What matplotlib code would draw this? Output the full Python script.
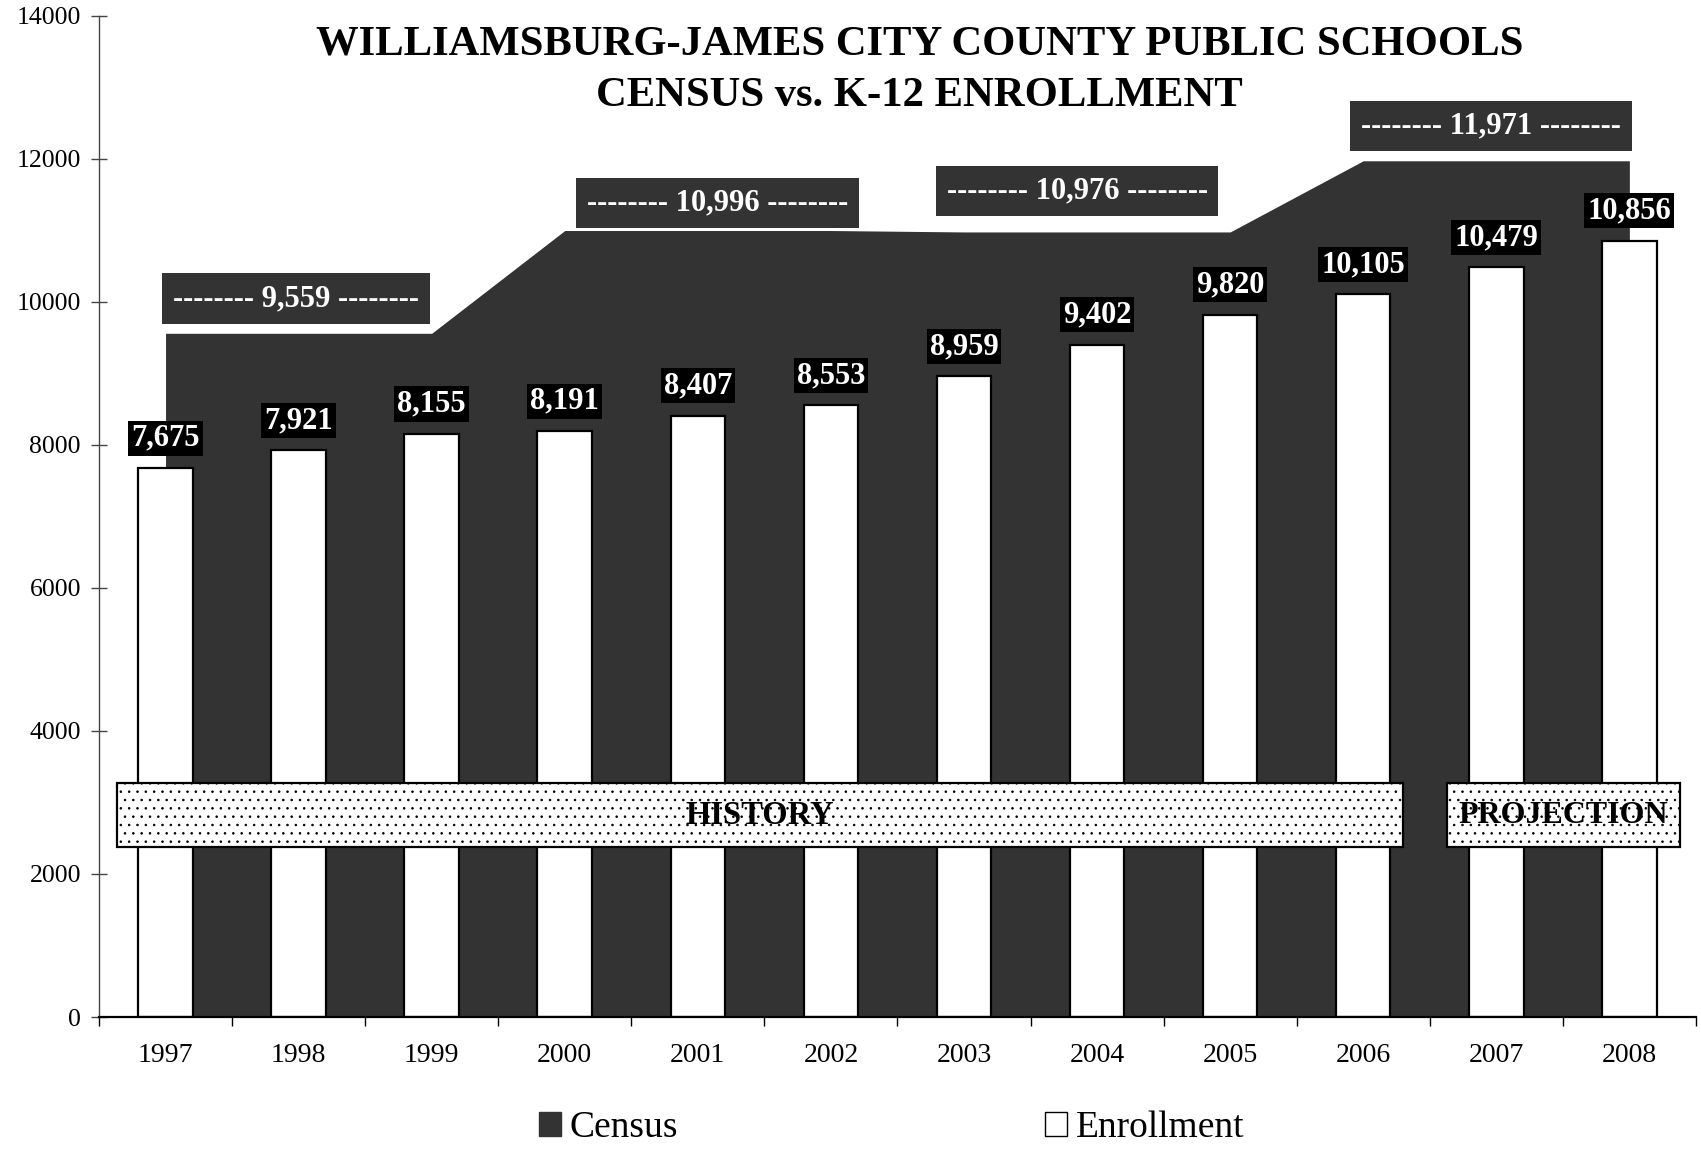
import matplotlib
matplotlib.use("Agg")
import matplotlib.pyplot as plt
from matplotlib.patches import Rectangle, Patch

plt.rcParams['font.family'] = ['Liberation Serif', 'DejaVu Serif']
plt.rcParams['hatch.color'] = '#222222'
plt.rcParams['hatch.linewidth'] = 0.6

# data
years = ['1997', '1998', '1999', '2000', '2001', '2002',
         '2003', '2004', '2005', '2006', '2007', '2008']
enrollment = [7675, 7921, 8155, 8191, 8407, 8553, 8959, 9402, 9820, 10105, 10479, 10856]
census = [9559, 9559, 9559, 10996, 10996, 10996, 10976, 10976, 10976, 11971, 11971, 11971]

# which census point each banner label belongs to, and where it sits
census_label_idx = [1, 4, 7, 10]
census_label_x = [0.98, 4.15, 6.85, 9.96]
census_label_dy = [14.5, 9.5, 19, 14.5]

DARK = '#333333'

fig = plt.figure(figsize=(17.01, 11.51), dpi=100)
ax = fig.add_axes([0.0582, 0.1164, 0.9388, 0.870])

x = list(range(len(years)))

# census as a filled area behind the bars
ax.fill_between(x, 0, census, color=DARK, linewidth=0, zorder=1)

# enrollment bars
ax.bar(x, enrollment, width=0.41, color='white', edgecolor='black',
       linewidth=1.6, zorder=2)

# enrollment value labels
for i, v in enumerate(enrollment):
    ax.annotate(f"{v:,}", xy=(i, v), xytext=(0, 11), textcoords='offset points',
                ha='center', va='bottom', fontsize=22, fontweight='bold',
                color='white', zorder=6,
                bbox=dict(boxstyle='square,pad=0.1', facecolor='black', edgecolor='none'))

# census banner labels
for idx, lx, dy in zip(census_label_idx, census_label_x, census_label_dy):
    v = census[idx]
    ax.annotate(f"-------- {v:,} --------", xy=(lx, v), xytext=(0, dy),
                textcoords='offset points', ha='center', va='bottom',
                fontsize=22, fontweight='bold', color='white', zorder=6,
                bbox=dict(boxstyle='square,pad=0.35', facecolor=DARK, edgecolor='none'))

# HISTORY / PROJECTION bands
hist = Rectangle((-0.365, 2376), 9.297 + 0.365, 3271 - 2376, facecolor='white',
                 edgecolor='black', hatch='..', linewidth=1.6, zorder=4)
proj = Rectangle((9.633, 2376), 11.378 - 9.633, 3271 - 2376, facecolor='white',
                 edgecolor='black', hatch='..', linewidth=1.6, zorder=4)
ax.add_patch(hist)
ax.add_patch(proj)
ax.text((-0.365 + 9.297) / 2, (2376 + 3271) / 2, 'HISTORY', ha='center', va='center',
        fontsize=23.5, fontweight='bold', zorder=5)
ax.text((9.633 + 11.378) / 2, (2376 + 3271) / 2, 'PROJECTION', ha='center', va='center',
        fontsize=23, fontweight='bold', zorder=5)

# axes
ax.set_xlim(-0.5, 11.5)
ax.set_ylim(0, 14000)
ax.set_yticks(range(0, 14001, 2000))
ax.tick_params(axis='y', direction='inout', length=12, width=1, labelsize=18.5, pad=7,
               color='#444444')
ax.set_xticks(x)
ax.set_xticklabels(years)
ax.set_xticks([i - 0.5 for i in range(len(years) + 1)], minor=True)
ax.tick_params(axis='x', which='major', length=0, labelsize=20, pad=19)
ax.tick_params(axis='x', which='minor', direction='out', length=6.5, width=1)

for side in ['top', 'right']:
    ax.spines[side].set_visible(False)
ax.spines['left'].set_color('#444444')
ax.spines['left'].set_linewidth(1)
ax.spines['bottom'].set_linewidth(1.6)
ax.set_facecolor('none')

fig.text(0.5406, 0.939, "WILLIAMSBURG-JAMES CITY COUNTY PUBLIC SCHOOLS\nCENSUS vs. K-12 ENROLLMENT",
         ha='center', va='center', fontsize=30.7, fontweight='bold', linespacing=1.46)

handles = [Patch(facecolor=DARK, edgecolor=DARK), Patch(facecolor='white', edgecolor='black')]
fig.legend(handles, ['Census', 'Enrollment'], loc='center left',
           bbox_to_anchor=(539 / 1701, 0.02), ncol=2, frameon=False, fontsize=27,
           handlelength=0.58, handleheight=0.58, handletextpad=0.23,
           columnspacing=9.8, borderpad=0, borderaxespad=0)

fig.savefig('out.png', dpi=100)
